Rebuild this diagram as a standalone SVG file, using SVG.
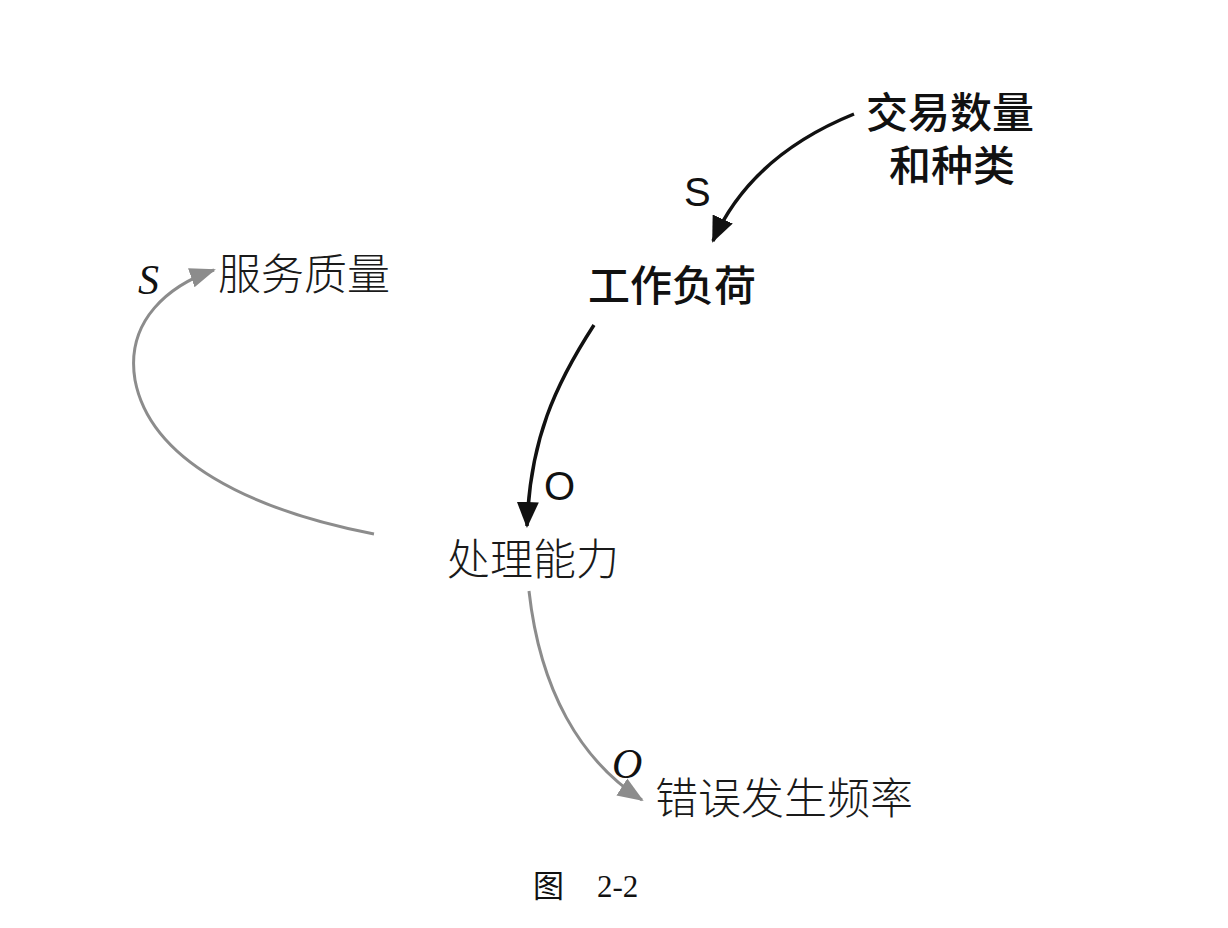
<svg xmlns="http://www.w3.org/2000/svg" width="1228" height="928" viewBox="0 0 1228 928">
<style>
.bold{font-family:"Noto Sans CJK SC",sans-serif;font-weight:500;font-size:42px;fill:#111}
.thin{font-family:"Noto Sans CJK SC",sans-serif;font-weight:300;font-size:43px;fill:#1a1a1a}
.lab{font-family:"Liberation Sans",sans-serif;font-size:40px;fill:#111}
.labs{font-family:"Liberation Serif",serif;font-style:italic;font-size:42px;fill:#111}
.dark{fill:none;stroke:#111;stroke-width:3.5}
.grey{fill:none;stroke:#8c8c8c;stroke-width:3}
.cap{font-family:"Liberation Serif","Noto Sans CJK SC",serif;font-size:31px;fill:#111}
</style>
<defs>
<marker id="ab" markerUnits="userSpaceOnUse" markerWidth="26" markerHeight="26" viewBox="0 0 26 26" refX="24" refY="13" orient="auto">
<path d="M0,2 L26,13 L0,24 Z" fill="#111"/>
</marker>
<marker id="ag" markerUnits="userSpaceOnUse" markerWidth="26" markerHeight="24" viewBox="0 0 26 24" refX="24" refY="12" orient="auto">
<path d="M0,2 L26,12 L0,22 Z" fill="#8c8c8c"/>
</marker>
</defs>
<rect width="1228" height="928" fill="#fff"/>
<g id="connectors">
<path class="dark" d="M854,114 C790,140 740,180 713,241" marker-end="url(#ab)"/>
<path class="dark" d="M594,325 C555,385 530,440 527,526" marker-end="url(#ab)"/>
<path class="grey" d="M374,534 C250,510 150,460 135,380 C125,320 170,285 214,270" marker-end="url(#ag)"/>
<path class="grey" d="M529,591 C540,690 580,760 642,800" marker-end="url(#ag)"/>
<text class="lab" x="684" y="206">S</text>
<text class="lab" x="544" y="500">O</text>
<text class="labs" x="138" y="294">S</text>
<text class="labs" x="612" y="778">O</text>
</g>
<g id="n-trade"><text class="bold"><tspan x="866" y="128">交易数量</tspan><tspan x="889" y="181">和种类</tspan></text></g>
<g id="n-work"><text class="bold" x="588" y="301">工作负荷</text></g>
<g id="n-service"><text class="thin" x="218" y="290">服务质量</text></g>
<g id="n-capacity"><text class="thin" x="447" y="575">处理能力</text></g>
<g id="n-error"><text class="thin" x="655" y="814">错误发生频率</text></g>
<g id="caption"><text class="cap" x="533" y="897">图</text><text class="cap" x="597" y="897">2-2</text></g>
</svg>
